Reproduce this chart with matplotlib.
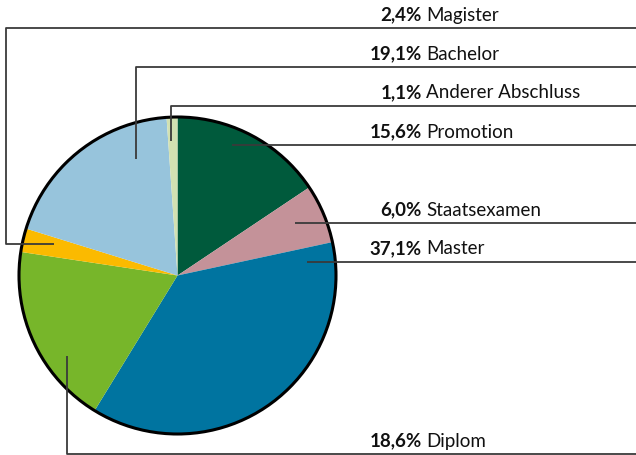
import matplotlib.pyplot as plt
from matplotlib.patches import Circle

# Data (clockwise from 12 o'clock)
labels = ["Promotion", "Staatsexamen", "Master", "Diplom", "Magister", "Bachelor", "Anderer Abschluss"]
shares = [15.6, 6.0, 37.1, 18.6, 2.4, 19.1, 1.1]
colors = ["#005a3c", "#c49299", "#0074a0", "#77b62a", "#fbba00", "#97c4dc", "#d2e1b2"]

# Leader lines in pixel coordinates: path from inside the slice to the right edge
leaders = {
    "Promotion": [(232, 145), (636, 145)],
    "Staatsexamen": [(295, 223), (636, 223)],
    "Master": [(307, 262), (636, 262)],
    "Diplom": [(67, 356), (67, 454), (636, 454)],
    "Magister": [(54, 244), (6, 244), (6, 28), (636, 28)],
    "Bachelor": [(136, 159), (136, 67), (636, 67)],
    "Anderer Abschluss": [(171, 141), (171, 106), (636, 106)],
}

W, H = 636, 455
cx, cy, r = 177.5, 275.5, 158.5

plt.rcParams['font.family'] = ['Lato', 'DejaVu Sans']

fig = plt.figure(figsize=(W / 100, H / 100), dpi=100)
ax = fig.add_axes([0, 0, 1, 1])

# y axis inverted -> startangle -90 is top, counterclock=True draws clockwise on screen
ax.pie(shares, colors=colors, startangle=-90, counterclock=True,
       center=(cx, cy), radius=r, wedgeprops=dict(linewidth=0))
ax.add_patch(Circle((cx, cy), r, fill=False, edgecolor="black", linewidth=2.2, zorder=3))

for name, val in zip(labels, shares):
    pts = leaders[name]
    xs = [p[0] for p in pts]
    ys = [p[1] for p in pts]
    ax.plot(xs, ys, color="#3a3a3a", linewidth=1.3, solid_capstyle="butt", zorder=4)
    ty = pts[-1][1] - 13
    pct = f"{val:.1f}".replace(".", ",") + "%"
    ax.text(422, ty, pct, ha="right", va="center", fontsize=13.5, fontweight="bold", color="#111111")
    ax.text(426, ty, name, ha="left", va="center", fontsize=13.5, color="#111111")

ax.set_xlim(0, W)
ax.set_ylim(H, 0)
ax.set_aspect("auto")
ax.axis("off")

fig.savefig("out.png", dpi=100)
